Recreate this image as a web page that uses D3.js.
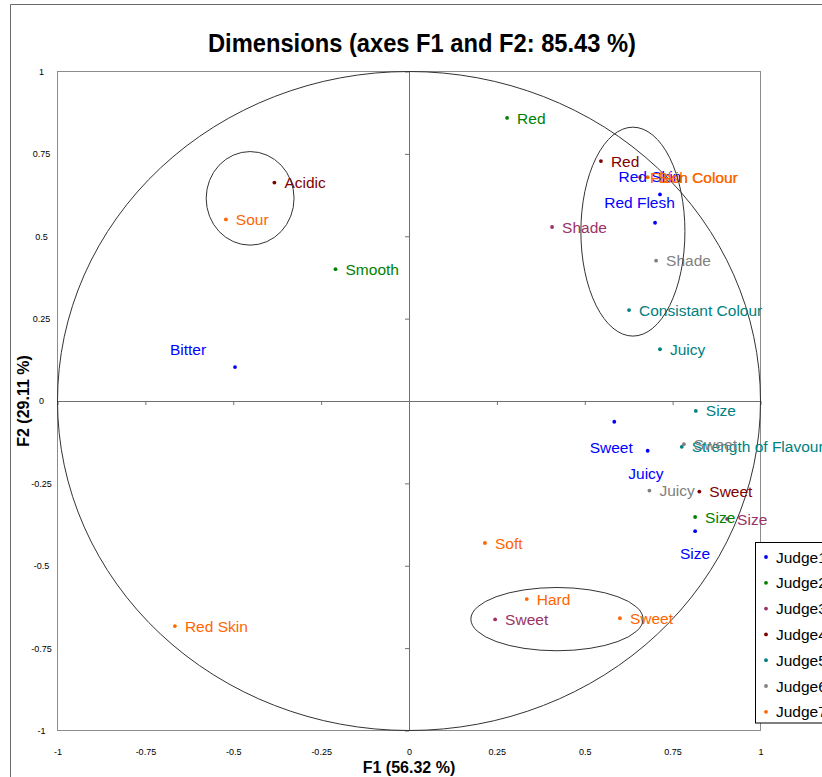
<!DOCTYPE html>
<html>
<head>
<meta charset="utf-8">
<script src="https://cdn.jsdelivr.net/npm/d3@7"></script>
<style>
  body { margin: 0; background: #fff; }
  svg { display: block; }
  text { font-family: Arial, "Liberation Sans", sans-serif; }
</style>
</head>
<body>
<svg id="chart" width="822" height="777"></svg>
<script>
// Judges (series) and their colours
const judges = ["Judge1", "Judge2", "Judge3", "Judge4", "Judge5", "Judge6", "Judge7"];
const judgeColors = ["#0000FF", "#008000", "#993366", "#800000", "#008080", "#808080", "#FF6600"];

// Variables: descriptor, judge (0-based), coordinates on F1 and F2
const attributes = [
  "Bitter", "Red Skin", "Red Flesh", "Sweet", "Juicy", "Size",
  "Red", "Smooth", "Size",
  "Shade", "Size", "Sweet",
  "Acidic", "Red", "Sweet",
  "Consistant Colour", "Juicy", "Size", "Strength of Flavour",
  "Shade", "Sweet", "Juicy",
  "Sour", "Skin Colour", "Flesh Colour", "Soft", "Hard", "Sweet", "Red Skin"
];
const judgeOf = [
  0, 0, 0, 0, 0, 0,
  1, 1, 1,
  2, 2, 2,
  3, 3, 3,
  4, 4, 4, 4,
  5, 5, 5,
  6, 6, 6, 6, 6, 6, 6
];
const f1 = [
  -0.495, 0.714, 0.700, 0.584, 0.679, 0.814,
  0.279, -0.209, 0.814,
  0.407, 0.905, 0.245,
  -0.383, 0.546, 0.826,
  0.626, 0.714, 0.816, 0.776,
  0.703, 0.782, 0.684,
  -0.521, 0.679, 0.657, 0.216, 0.335, 0.600, -0.666
];
const f2 = [
  0.103, 0.627, 0.541, -0.063, -0.151, -0.395,
  0.859, 0.400, -0.352,
  0.528, -0.358, -0.663,
  0.663, 0.728, -0.275,
  0.276, 0.157, -0.030, -0.139,
  0.426, -0.131, -0.272,
  0.551, 0.679, 0.679, -0.431, -0.601, -0.659, -0.683
];

// Axis ticks
const tickValues = [-1, -0.75, -0.5, -0.25, 0, 0.25, 0.5, 0.75, 1];
const tickLabels = ["-1", "-0.75", "-0.5", "-0.25", "0", "0.25", "0.5", "0.75", "1"];

// Hand-drawn groupings: centre (F1, F2) and radii in axis units
const groupCx = [-0.452, 0.637, 0.421];
const groupCy = [0.615, 0.514, -0.662];
const groupRx = [0.125, 0.148, 0.245];
const groupRy = [0.142, 0.317, 0.096];

// Judge1 labels sit above / below their point (pixel nudges, text centred)
const labelNudge = {
  0: [-47, -18], 1: [-10, -17.6], 2: [-15.5, -20.7],
  3: [-3, 26], 4: [-1.7, 22.3], 5: [0, 22]
};

const svg = d3.select("#chart");
const W = 822, H = 777;
const plot = { left: 57.5, right: 760.5, top: 71.5, bottom: 730.5 };

const x = d3.scaleLinear().domain([-1, 1]).range([plot.left, plot.right]);
const y = d3.scaleLinear().domain([-1, 1]).range([plot.bottom, plot.top]);

// outer chart frame
svg.append("path")
  .attr("d", `M10.5,${H}V4.5H${W}`)
  .attr("fill", "none").attr("stroke", "#6a6a6a").attr("stroke-width", 1);

// title
svg.append("text")
  .attr("x", 208).attr("y", 51.5)
  .attr("textLength", 428).attr("lengthAdjust", "spacingAndGlyphs")
  .attr("font-size", 25.5).attr("font-weight", "bold").attr("fill", "#000")
  .text("Dimensions (axes F1 and F2: 85.43 %)");

// plot frame
svg.append("rect")
  .attr("x", plot.left).attr("y", plot.top)
  .attr("width", plot.right - plot.left).attr("height", plot.bottom - plot.top)
  .attr("fill", "none").attr("stroke", "#8c8c8c").attr("stroke-width", 1);

// bottom tick labels
const xAxis = svg.append("g")
  .attr("transform", `translate(0,${plot.bottom})`)
  .call(d3.axisBottom(x).tickValues(tickValues)
    .tickFormat((d, i) => tickLabels[i]).tickSize(0).tickPadding(18));
xAxis.select(".domain").remove();
xAxis.selectAll("text").attr("font-size", 9).attr("fill", "#000")
  .attr("font-family", "Arial, 'Liberation Sans', sans-serif");

// left tick labels
const yAxis = svg.append("g")
  .attr("transform", `translate(${plot.left},0)`)
  .call(d3.axisLeft(y).tickValues(tickValues)
    .tickFormat((d, i) => tickLabels[i]).tickSize(0).tickPadding(0));
yAxis.select(".domain").remove();
yAxis.selectAll("text").attr("font-size", 9).attr("fill", "#000")
  .attr("text-anchor", "middle").attr("x", -16)
  .attr("font-family", "Arial, 'Liberation Sans', sans-serif");

// zero lines with small ticks
const zeroX = svg.append("g")
  .attr("transform", `translate(0,${y(0)})`)
  .call(d3.axisBottom(x).tickValues(tickValues).tickFormat("").tickSize(4).tickSizeOuter(0));
zeroX.selectAll("path, line").attr("stroke", "#707070");
const zeroY = svg.append("g")
  .attr("transform", `translate(${x(0)},0)`)
  .call(d3.axisLeft(y).tickValues(tickValues).tickFormat("").tickSize(4).tickSizeOuter(0));
zeroY.selectAll("path, line").attr("stroke", "#707070");

// correlation circle
svg.append("ellipse")
  .attr("cx", x(0)).attr("cy", y(0))
  .attr("rx", x(1) - x(0)).attr("ry", y(0) - y(1))
  .attr("fill", "none").attr("stroke", "#333").attr("stroke-width", 1);

// axis titles
svg.append("text")
  .attr("x", x(0)).attr("y", 773)
  .attr("text-anchor", "middle").attr("font-size", 16).attr("font-weight", "bold")
  .text("F1 (56.32 %)");
svg.append("text")
  .attr("transform", `translate(29,${y(0)}) rotate(-90)`)
  .attr("text-anchor", "middle").attr("font-size", 16).attr("font-weight", "bold")
  .text("F2 (29.11 %)");

const idx = d3.range(attributes.length);

// points
svg.append("g").selectAll("circle").data(idx).join("circle")
  .attr("cx", i => x(f1[i])).attr("cy", i => y(f2[i]))
  .attr("r", 1.9)
  .attr("fill", i => judgeColors[judgeOf[i]]);

// labels
svg.append("g").selectAll("text").data(idx).join("text")
  .attr("x", i => x(f1[i]) + (labelNudge[i] ? labelNudge[i][0] : 10))
  .attr("y", i => y(f2[i]) + (labelNudge[i] ? labelNudge[i][1] : 0))
  .attr("dy", "0.36em")
  .attr("text-anchor", i => labelNudge[i] ? "middle" : "start")
  .attr("font-size", 15.5)
  .attr("fill", i => judgeColors[judgeOf[i]])
  .text(i => attributes[i]);

// groupings
svg.append("g").selectAll("ellipse").data(d3.range(groupCx.length)).join("ellipse")
  .attr("cx", k => x(groupCx[k])).attr("cy", k => y(groupCy[k]))
  .attr("rx", k => x(groupRx[k]) - x(0)).attr("ry", k => y(0) - y(groupRy[k]))
  .attr("fill", "none").attr("stroke", "#333").attr("stroke-width", 1);

// legend
const legend = svg.append("g").attr("transform", "translate(755.5,542.5)");
legend.append("rect")
  .attr("width", 90).attr("height", 180.5)
  .attr("fill", "#fff").attr("stroke", "#000").attr("stroke-width", 1);
const rows = legend.selectAll("g").data(judges).join("g")
  .attr("transform", (d, i) => `translate(0,${14.5 + i * 25.8})`);
rows.append("circle").attr("cx", 10.5).attr("r", 1.9)
  .attr("fill", (d, i) => judgeColors[i]);
rows.append("text").attr("x", 20.5).attr("dy", "0.36em")
  .attr("font-size", 15.5).attr("fill", "#000")
  .text(d => d);
</script>
</body>
</html>
